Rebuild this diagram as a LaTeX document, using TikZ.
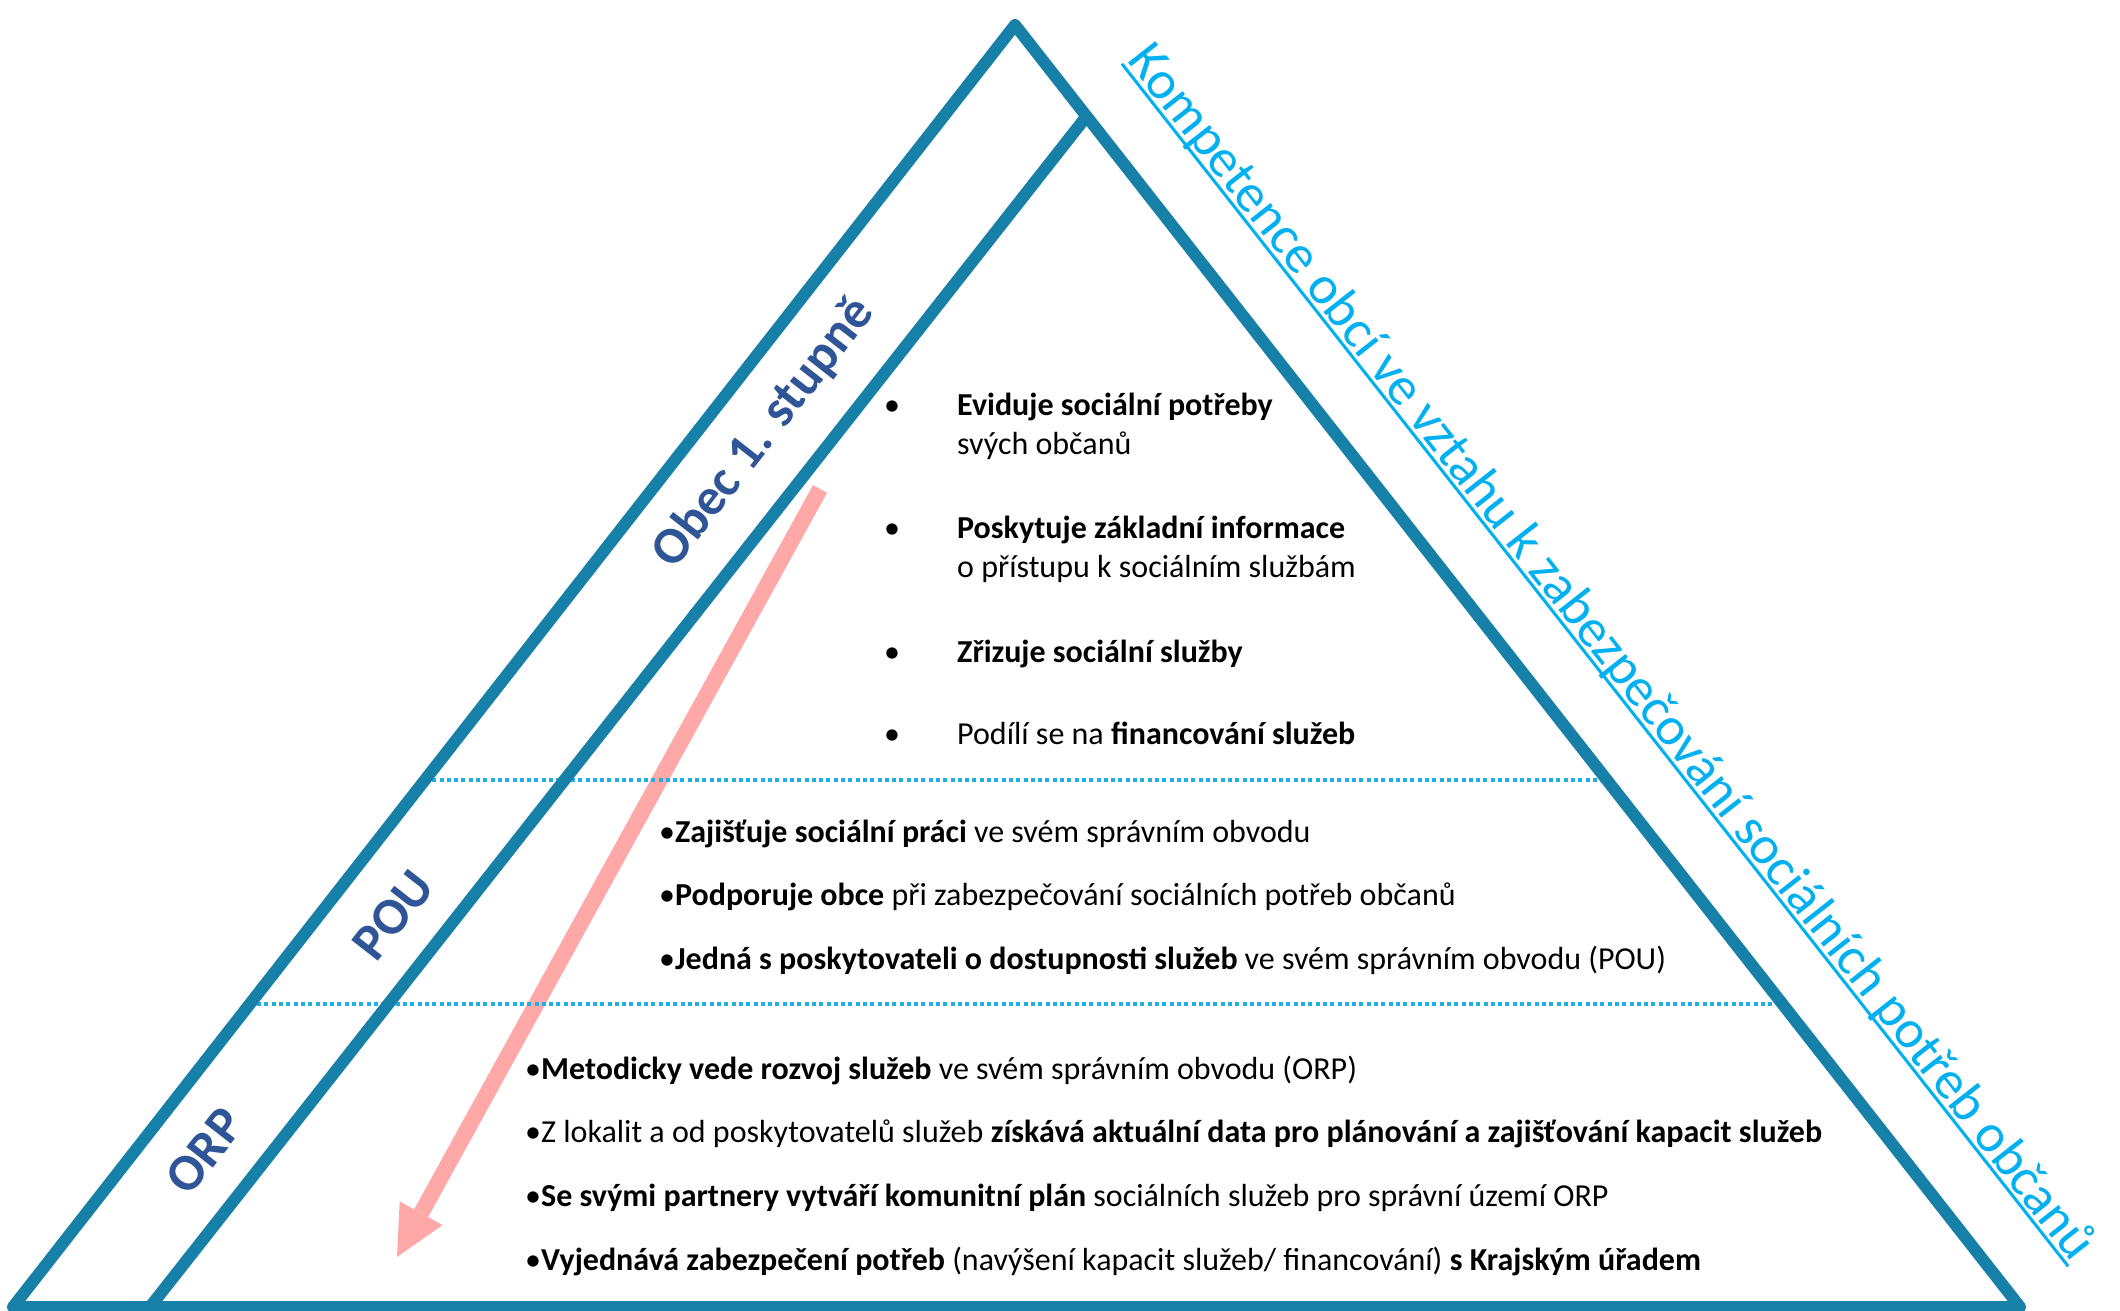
\documentclass[tikz,border=0pt]{standalone}
\usepackage{fontspec}
\setmainfont{Carlito}
\usetikzlibrary{calc,arrows.meta}

\definecolor{hrana}{HTML}{1680A8}
\definecolor{stupen}{HTML}{2F5597}
\definecolor{azur}{HTML}{00B0F0}
\definecolor{teckovana}{HTML}{21AEE6}
\definecolor{ruzova}{HTML}{FFA8A8}

\tikzset{
  hranice/.style={draw=hrana, line width=12pt},
  oddel/.style={draw=teckovana, line width=4pt, line cap=butt, dash pattern=on 4pt off 3.3pt},
  uroven/.style={text=stupen, font=\fontsize{52}{60}\selectfont\bfseries, rotate=52, inner sep=0pt},
  radek/.style={anchor=base west, inner sep=0pt, font=\fontsize{32}{38}\selectfont},
  odrazka/.style={anchor=base, inner sep=0pt, font=\fontsize{32}{38}\selectfont},
  sipka/.style={draw=ruzova, line width=16pt, line cap=butt,
    -{Triangle[length=50pt, width=49pt, line width=0pt]}},
}

\begin{document}
\begin{tikzpicture}[x=1pt, y=-1pt, line cap=round, line join=round]
\useasboundingbox (0,0) rectangle (2120,1310);

% 三角形的顶点
\coordinate (vrchol) at (1015,25);
\coordinate (vlevo) at (13,1307);
\coordinate (vpravo) at (2020,1307);
\coordinate (vnitrni) at (1086,117);
\coordinate (vnitrniDole) at (150,1307);

% 粉色箭头(在点线下面)
\coordinate (sipkaStart) at (820,489);
\coordinate (sipkaHrot) at (397,1257);
\draw[sipka] (sipkaStart) -- (sipkaHrot);

% 两条点线分隔三个层级
\pgfmathsetmacro{\horni}{(780-25)/(1307-25)}
\pgfmathsetmacro{\dolni}{(1004-25)/(1307-25)}
\draw[oddel] ($(vrchol)!\horni!(vlevo)$) -- ($(vrchol)!\horni!(vpravo)$);
\draw[oddel] ($(vrchol)!\dolni!(vlevo)$) -- ($(vrchol)!\dolni!(vpravo)$);

% 外三角形和内侧边
\draw[hranice] (vrchol) -- (vlevo) -- (vpravo) -- cycle;
\draw[hranice] (vnitrni) -- (vnitrniDole);

% 左侧的层级名称
\node[uroven] (obec) at (764,433) {Obec 1. stupně};
\node[uroven] (pou) at (393,915) {POU};
\node[uroven] (orp) at (205,1151) {ORP};

% 右侧的标题,带下划线
\node[anchor=base, inner sep=0pt, rotate=-51.8, text=azur,
  font=\fontsize{54}{60}\selectfont] (kompetence) at (1599,662)
  {Kompetence obcí ve vztahu k zabezpečování sociálních potřeb občanů};
\draw[azur, line width=3pt, line cap=butt]
  ($(kompetence.base west)!5pt!-90:(kompetence.base east)$) --
  ($(kompetence.base east)!5pt!90:(kompetence.base west)$);

% 第一层:obec 1. stupně
\foreach \y [count=\i] in {415,538,662,744}
  \node[odrazka] (tecka\i) at (892,\y) {•};
\node[radek] (obec1) at (957,415) {\textbf{Eviduje sociální potřeby}};
\node[radek] (obec1b) at (957,454) {svých občanů};
\node[radek] (obec2) at (957,538) {\textbf{Poskytuje základní informace}};
\node[radek] (obec2b) at (957,577) {o přístupu k sociálním službám};
\node[radek] (obec3) at (957,662) {\textbf{Zřizuje sociální služby}};
\node[radek] (obec4) at (957,744) {Podílí se na \textbf{financování služeb}};

% 第二层:POU
\foreach \y/\txt [count=\i] in {
  842/{•\textbf{Zajišťuje sociální práci} ve svém správním obvodu},
  905/{•\textbf{Podporuje obce} při zabezpečování sociálních potřeb občanů},
  969/{•\textbf{Jedná s poskytovateli o dostupnosti služeb} ve svém správním obvodu (POU)}}
  \node[radek] (pou\i) at (659,\y) {\txt};

% 第三层:ORP
\foreach \y/\txt [count=\i] in {
  1079/{•\textbf{Metodicky vede rozvoj služeb} ve svém správním obvodu (ORP)},
  1142/{•Z lokalit a od poskytovatelů služeb \textbf{získává aktuální data pro plánování a zajišťování kapacit služeb}},
  1206/{•\textbf{Se svými partnery vytváří komunitní plán} sociálních služeb pro správní území ORP},
  1270/{•\textbf{Vyjednává zabezpečení potřeb} (navýšení kapacit služeb/ financování) \textbf{s Krajským úřadem}}}
  \node[radek] (orp\i) at (525,\y) {\txt};

\end{tikzpicture}
\end{document}
